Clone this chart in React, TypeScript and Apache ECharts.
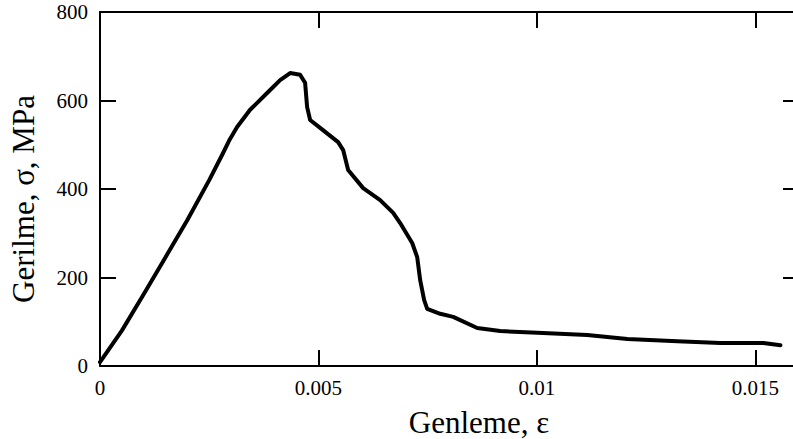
import React, { useEffect, useRef } from "react";
import * as echarts from "echarts";

const strain = [
  0.0, 0.0005, 0.001, 0.0015, 0.002, 0.0025, 0.0028, 0.00297, 0.003138,
  0.003436, 0.003825, 0.004123, 0.004352, 0.004581, 0.004695, 0.004741,
  0.00481, 0.005039, 0.005451, 0.005566, 0.00568, 0.006024, 0.006413,
  0.006711, 0.006871, 0.007146, 0.007261, 0.007329, 0.00742, 0.00749,
  0.007787, 0.008085, 0.008635, 0.00916, 0.010009, 0.011154, 0.01207,
  0.013216, 0.0142, 0.015185, 0.015575,
];
const stress = [
  9, 80, 162, 246, 330, 420, 478, 512, 540, 579, 617, 646, 662, 658, 640, 585,
  556, 538, 506, 488, 443, 402, 375, 346, 323, 278, 246, 194, 149, 129, 118,
  111, 86, 79, 75, 70, 61, 56, 52, 52, 47,
];
const xTickValues = [0, 0.005, 0.01, 0.015];
const xTickLabels = ["0", "0.005", "0.01", "0.015"];
const yTickValues = [0, 200, 400, 600, 800];
const yTickLabels = ["0", "200", "400", "600", "800"];
const xTitle = "Genleme, ε";
const yTitle = "Gerilme, σ, MPa";

const FONT = "Liberation Serif";

function fmt(values: number[], labels: string[]) {
  return (v: number) => {
    for (let i = 0; i < values.length; i++) {
      if (Math.abs(values[i] - v) < 1e-9) return labels[i];
    }
    return "";
  };
}

export default function App() {
  const ref = useRef<HTMLDivElement>(null);
  useEffect(() => {
    if (!ref.current) return;
    const chart = echarts.init(ref.current, null, { renderer: "svg" });
    const axisLine = { show: true, onZero: false, lineStyle: { color: "#000", width: 2 } };
    const tick = { show: true, inside: true, length: 16, lineStyle: { color: "#000", width: 2 } };
    const data = strain.map((s, i) => [s, stress[i]]);
    chart.setOption({
      animation: false,
      backgroundColor: "#fff",
      textStyle: { fontFamily: FONT },
      grid: { left: 100, top: 12, width: 699, height: 354, containLabel: false },
      xAxis: [
        {
          type: "value",
          min: 0,
          max: 0.016,
          interval: 0.005,
          position: "bottom",
          axisLine,
          axisTick: tick,
          splitLine: { show: false },
          axisLabel: {
            show: true,
            margin: 11,
            color: "#000",
            fontFamily: FONT,
            fontSize: 21,
            showMaxLabel: false,
            formatter: fmt(xTickValues, xTickLabels),
          },
        },
        {
          type: "value",
          min: 0,
          max: 0.016,
          interval: 0.005,
          position: "top",
          axisLine,
          axisTick: tick,
          splitLine: { show: false },
          axisLabel: { show: false },
        },
      ],
      yAxis: [
        {
          type: "value",
          min: 0,
          max: 800,
          interval: 200,
          position: "left",
          axisLine,
          axisTick: tick,
          splitLine: { show: false },
          axisLabel: {
            show: true,
            margin: 12,
            color: "#000",
            fontFamily: FONT,
            fontSize: 21,
            formatter: fmt(yTickValues, yTickLabels),
          },
        },
        {
          type: "value",
          min: 0,
          max: 800,
          interval: 200,
          position: "right",
          axisLine,
          axisTick: tick,
          splitLine: { show: false },
          axisLabel: { show: false },
        },
      ],
      series: [
        {
          type: "line",
          data,
          xAxisIndex: 0,
          yAxisIndex: 0,
          showSymbol: false,
          symbol: "none",
          lineStyle: { color: "#000", width: 4, join: "round", cap: "round" },
        },
      ],
      graphic: [
        {
          type: "text",
          x: 479,
          y: 422,
          style: {
            text: xTitle,
            fontFamily: FONT,
            fontSize: 31,
            fill: "#000",
            align: "center",
            verticalAlign: "middle",
          },
        },
        {
          type: "text",
          x: 23,
          y: 199,
          rotation: Math.PI / 2,
          style: {
            text: yTitle,
            fontFamily: FONT,
            fontSize: 31,
            fill: "#000",
            align: "center",
            verticalAlign: "middle",
          },
        },
      ],
    });
    return () => chart.dispose();
  }, []);
  return (
    <div
      style={{
        position: "absolute",
        left: 0,
        top: 0,
        width: 793,
        height: 439,
        overflow: "hidden",
        background: "#fff",
      }}
    >
      <div ref={ref} style={{ width: 800, height: 439 }} />
    </div>
  );
}
